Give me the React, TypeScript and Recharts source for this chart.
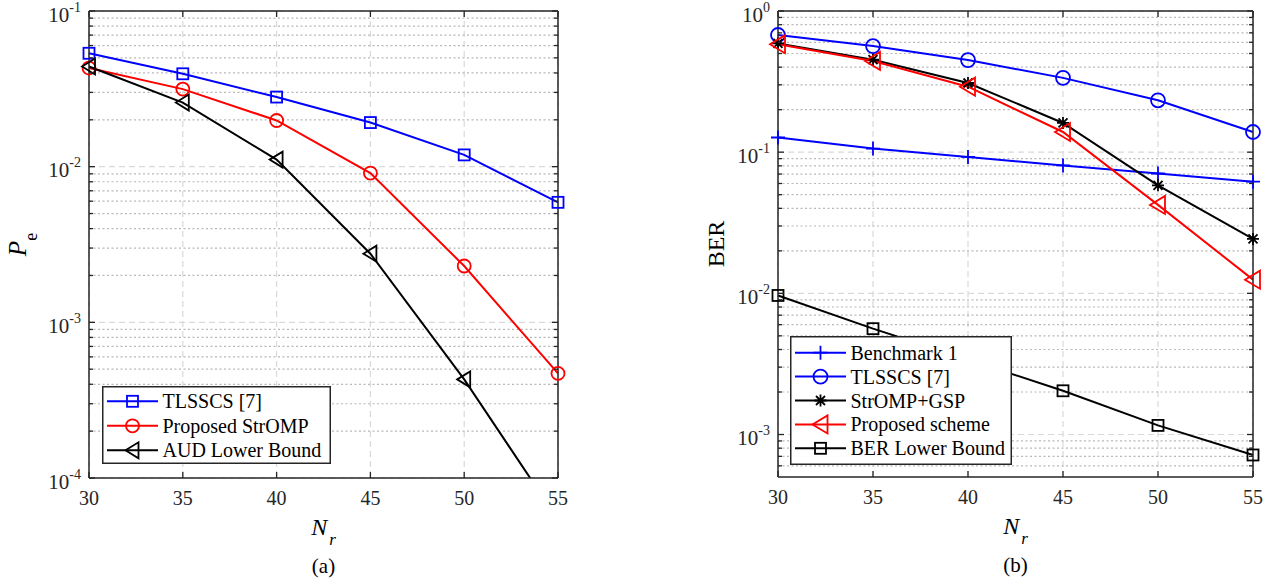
import React from 'react';
import { LineChart, Line, XAxis, YAxis, CartesianGrid, Legend } from 'recharts';

// N_r values on the x axis
const nr = [30, 35, 40, 45, 50, 55];

// (a) AUD error probability P_e
const peTlsscs = [0.0535, 0.0395, 0.028, 0.0192, 0.0119, 0.0059];
const peStromp = [0.043, 0.0315, 0.0198, 0.0091, 0.0023, 0.00047];
const peAudBound = [0.044, 0.0258, 0.0111, 0.00276, 0.00043, 0.000054];

// (b) BER
const berBenchmark1 = [0.127, 0.106, 0.0925, 0.0806, 0.0706, 0.0618];
const berTlsscs = [0.676, 0.564, 0.449, 0.336, 0.233, 0.139];
const berStrompGsp = [0.589, 0.452, 0.309, 0.161, 0.0582, 0.0243];
const berProposed = [0.582, 0.443, 0.291, 0.139, 0.0423, 0.0125];
const berLowerBound = [0.00966, 0.00562, 0.0034, 0.00204, 0.00116, 0.000716];

// ticks
const xTicks = [30, 35, 40, 45, 50, 55];
const peDomain = [1e-4, 1e-1];
const peMajor = [1e-4, 1e-3, 1e-2, 1e-1];
const berDomain = [5e-4, 1];
const berMajor = [1e-3, 1e-2, 1e-1, 1];

const FONT = "'Liberation Serif', 'Times New Roman', serif";
const FRAME = '#262626';

const minorTicks = (lo: number, hi: number) => {
  const out: number[] = [];
  for (let e = Math.floor(Math.log10(lo)); e < Math.log10(hi); e++) {
    for (let m = 2; m <= 9; m++) {
      const v = m * Math.pow(10, e);
      if (v > lo * 1.0001 && v < hi * 0.9999) out.push(v);
    }
  }
  return out;
};
const peMinor = minorTicks(peDomain[0], peDomain[1]);
const berMinor = minorTicks(berDomain[0], berDomain[1]);

const isMajor = (v: number) => {
  const l = Math.log10(v);
  return Math.abs(l - Math.round(l)) < 1e-6;
};

const peData = nr.map((n, i) => ({
  nr: n,
  tlsscs: peTlsscs[i],
  stromp: peStromp[i],
  aud: peAudBound[i],
}));

const berData = nr.map((n, i) => ({
  nr: n,
  bench: berBenchmark1[i],
  tlsscs: berTlsscs[i],
  gsp: berStrompGsp[i],
  proposed: berProposed[i],
  bound: berLowerBound[i],
}));

type Shape = 'square' | 'circle' | 'triangle' | 'plus' | 'star';

function Marker({ shape, cx, cy, color, big }: { shape: Shape; cx: number; cy: number; color: string; big?: boolean }) {
  const sw = 1.8;
  if (cx == null || cy == null || isNaN(cx) || isNaN(cy)) return null;
  switch (shape) {
    case 'square':
      return <rect x={cx - 5.5} y={cy - 5.5} width={11} height={11} fill="none" stroke={color} strokeWidth={sw} />;
    case 'circle':
      return <circle cx={cx} cy={cy} r={big ? 7 : 6.5} fill="none" stroke={color} strokeWidth={sw} />;
    case 'triangle': {
      const a = big ? 8 : 7;
      const h = big ? 9 : 8;
      return (
        <polygon
          points={`${cx - a},${cy} ${cx + a - 1},${cy - h} ${cx + a - 1},${cy + h}`}
          fill="none"
          stroke={color}
          strokeWidth={sw}
        />
      );
    }
    case 'plus':
      return <path d={`M${cx - 7},${cy}H${cx + 7}M${cx},${cy - 7}V${cy + 7}`} stroke={color} strokeWidth={sw} fill="none" />;
    case 'star':
      return (
        <path
          d={`M${cx - 6},${cy}H${cx + 6}M${cx},${cy - 6}V${cy + 6}M${cx - 4.5},${cy - 4.5}L${cx + 4.5},${cy + 4.5}M${cx - 4.5},${cy + 4.5}L${cx + 4.5},${cy - 4.5}`}
          stroke={color}
          strokeWidth={sw}
          fill="none"
        />
      );
  }
  return null;
}

const dotOf = (shape: Shape, color: string, big?: boolean) => (p: any) => (
  <Marker key={`m-${p.index}`} shape={shape} cx={p.cx} cy={p.cy} color={color} big={big} />
);

type Item = { name: string; color: string; shape: Shape };

const peItems: Item[] = [
  { name: 'TLSSCS [7]', color: '#0000ff', shape: 'square' },
  { name: 'Proposed StrOMP', color: '#ff0000', shape: 'circle' },
  { name: 'AUD Lower Bound', color: '#000000', shape: 'triangle' },
];

const berItems: Item[] = [
  { name: 'Benchmark 1', color: '#0000ff', shape: 'plus' },
  { name: 'TLSSCS [7]', color: '#0000ff', shape: 'circle' },
  { name: 'StrOMP+GSP', color: '#000000', shape: 'star' },
  { name: 'Proposed scheme', color: '#ff0000', shape: 'triangle' },
  { name: 'BER Lower Bound', color: '#000000', shape: 'square' },
];

function LegendBox({ items, width, height, first, step, big }: { items: Item[]; width: number; height: number; first: number; step: number; big?: boolean }) {
  return (
    <svg width={width} height={height} style={{ display: 'block' }}>
      <rect x={0.75} y={0.75} width={width - 1.5} height={height - 1.5} fill="#fff" stroke={FRAME} strokeWidth={1.5} />
      {items.map((it, i) => {
        const y = first + i * step;
        return (
          <g key={it.name}>
            <line x1={5} x2={56} y1={y} y2={y} stroke={it.color} strokeWidth={2} />
            <Marker shape={it.shape} cx={30.5} cy={y} color={it.color} big={big} />
            <text x={60.5} y={y + 7} fontSize={20} fontFamily={FONT} fill="#000">
              {it.name}
            </text>
          </g>
        );
      })}
    </svg>
  );
}

const leftTick = (props: any) => {
  const { x, y, payload } = props;
  const v = payload.value;
  const major = isMajor(v);
  const len = major ? 6 : 4;
  return (
    <g>
      <line x1={x} x2={x + len} y1={y} y2={y} stroke={FRAME} strokeWidth={1.3} />
      {major && (
        <text x={x - 8} y={y + 10.5} textAnchor="end" fontSize={21} fontFamily={FONT} fill={FRAME}>
          10
          <tspan fontSize={14} dy={-10}>
            {Math.round(Math.log10(v))}
          </tspan>
        </text>
      )}
    </g>
  );
};

const rightTick = (props: any) => {
  const { x, y, payload } = props;
  const len = isMajor(payload.value) ? 6 : 4;
  return <line x1={x} x2={x - len} y1={y} y2={y} stroke={FRAME} strokeWidth={1.3} />;
};

const bottomTick = (props: any) => {
  const { x, y, payload } = props;
  return (
    <g>
      <line x1={x} x2={x} y1={y} y2={y - 6} stroke={FRAME} strokeWidth={1.3} />
      <text x={x} y={y + 26.5} textAnchor="middle" fontSize={20} fontFamily={FONT} fill={FRAME}>
        {payload.value}
      </text>
    </g>
  );
};

const topTick = (props: any) => {
  const { x, y } = props;
  return <line x1={x} x2={x} y1={y} y2={y + 6} stroke={FRAME} strokeWidth={1.3} />;
};

const xLabel = (tag: string) => (props: any) => {
  const vb = props.viewBox || {};
  const cx = vb.x + vb.width / 2;
  const by = vb.y;
  return (
    <g>
      <text x={cx} y={by + 56.5} textAnchor="middle" fontFamily={FONT} fontSize={24} fontStyle="italic" fill="#000">
        N
        <tspan fontSize={17} dy={10} dx={2}>
          r
        </tspan>
      </text>
      <text x={cx} y={by + 94.5} textAnchor="middle" fontFamily={FONT} fontSize={21} fill="#000">
        {tag}
      </text>
    </g>
  );
};

const peYLabel = (props: any) => {
  const vb = props.viewBox || {};
  const cy = vb.y + vb.height / 2;
  const x = 26;
  return (
    <text x={x} y={cy} transform={`rotate(-90, ${x}, ${cy})`} textAnchor="middle" fontFamily={FONT} fontSize={25} fill="#000">
      <tspan fontStyle="italic">P</tspan>
      <tspan fontSize={18} dy={11}>
        e
      </tspan>
    </text>
  );
};

const berYLabel = (props: any) => {
  const vb = props.viewBox || {};
  const cy = vb.y + vb.height / 2;
  const x = 84;
  return (
    <text x={x} y={cy} transform={`rotate(-90, ${x}, ${cy})`} textAnchor="middle" fontFamily={FONT} fontSize={24} fill="#000">
      BER
    </text>
  );
};

const axisLine = { stroke: FRAME, strokeWidth: 1.5 };

type PanelProps = {
  data: any[];
  width: number;
  margin: { top: number; right: number; bottom: number; left: number };
  domain: number[];
  major: number[];
  minor: number[];
  tag: string;
  yLabel: (p: any) => React.ReactNode;
  children: React.ReactNode;
};

function Panel({ data, width, margin, domain, major, minor, tag, yLabel, children }: PanelProps) {
  const ticks = [...major, ...minor].sort((a, b) => a - b);
  return (
    <LineChart width={width} height={579} data={data} margin={margin}>
      <CartesianGrid horizontalValues={major} verticalValues={xTicks} stroke="#d9d9d9" strokeDasharray="6 4" strokeWidth={1.2} />
      <CartesianGrid horizontalValues={minor} vertical={false} stroke="#b8b8b8" strokeDasharray="2 2.5" strokeWidth={1.2} />
      <XAxis
        dataKey="nr"
        type="number"
        domain={[30, 55]}
        ticks={xTicks}
        interval={0}
        height={1}
        tickSize={0}
        tickMargin={0}
        tickLine={false}
        axisLine={axisLine}
        tick={bottomTick}
        label={{ content: xLabel(tag) }}
      />
      <XAxis
        xAxisId="top"
        orientation="top"
        dataKey="nr"
        type="number"
        domain={[30, 55]}
        ticks={xTicks}
        interval={0}
        height={1}
        tickSize={0}
        tickMargin={0}
        tickLine={false}
        axisLine={axisLine}
        tick={topTick}
      />
      <YAxis
        type="number"
        scale="log"
        domain={domain}
        allowDataOverflow
        ticks={ticks}
        interval={0}
        width={1}
        tickSize={0}
        tickMargin={0}
        tickLine={false}
        axisLine={axisLine}
        tick={leftTick}
        label={{ content: yLabel }}
      />
      <YAxis
        yAxisId="right"
        orientation="right"
        type="number"
        scale="log"
        domain={domain}
        allowDataOverflow
        ticks={ticks}
        interval={0}
        width={1}
        tickSize={0}
        tickMargin={0}
        tickLine={false}
        axisLine={axisLine}
        tick={rightTick}
      />
      {children}
    </LineChart>
  );
}

export default function App() {
  return (
    <div style={{ position: 'absolute', left: 0, top: 0, width: 1277, height: 579, background: '#fff' }}>
      <div style={{ position: 'absolute', left: 0, top: 0 }}>
        <Panel
          data={peData}
          width={640}
          margin={{ top: 10, right: 81, bottom: 100, left: 88 }}
          domain={peDomain}
          major={peMajor}
          minor={peMinor}
          tag="(a)"
          yLabel={peYLabel}
        >
          <Line dataKey="tlsscs" stroke="#0000ff" strokeWidth={2} dot={dotOf('square', '#0000ff')} isAnimationActive={false} />
          <Line dataKey="stromp" stroke="#ff0000" strokeWidth={2} dot={dotOf('circle', '#ff0000')} isAnimationActive={false} />
          <Line dataKey="aud" stroke="#000000" strokeWidth={2} dot={dotOf('triangle', '#000000')} isAnimationActive={false} />
          <Legend
            layout="horizontal"
            verticalAlign="middle"
            align="center"
            wrapperStyle={{ position: 'absolute', left: 102, top: 386, width: 229, height: 78 }}
            content={() => <LegendBox items={peItems} width={229} height={78} first={15.3} step={24.5} />}
          />
        </Panel>
      </div>
      <div style={{ position: 'absolute', left: 640, top: 0 }}>
        <Panel
          data={berData}
          width={637}
          margin={{ top: 10, right: 23, bottom: 101, left: 137 }}
          domain={berDomain}
          major={berMajor}
          minor={berMinor}
          tag="(b)"
          yLabel={berYLabel}
        >
          <Line dataKey="bench" stroke="#0000ff" strokeWidth={2} dot={dotOf('plus', '#0000ff', true)} isAnimationActive={false} />
          <Line dataKey="tlsscs" stroke="#0000ff" strokeWidth={2} dot={dotOf('circle', '#0000ff', true)} isAnimationActive={false} />
          <Line dataKey="gsp" stroke="#000000" strokeWidth={2} dot={dotOf('star', '#000000', true)} isAnimationActive={false} />
          <Line dataKey="proposed" stroke="#ff0000" strokeWidth={2} dot={dotOf('triangle', '#ff0000', true)} isAnimationActive={false} />
          <Line dataKey="bound" stroke="#000000" strokeWidth={2} dot={dotOf('square', '#000000', true)} isAnimationActive={false} />
          <Legend
            layout="horizontal"
            verticalAlign="middle"
            align="center"
            wrapperStyle={{ position: 'absolute', left: 150, top: 336, width: 222, height: 129 }}
            content={() => <LegendBox items={berItems} width={222} height={129} first={16.7} step={23.9} big />}
          />
        </Panel>
      </div>
    </div>
  );
}
